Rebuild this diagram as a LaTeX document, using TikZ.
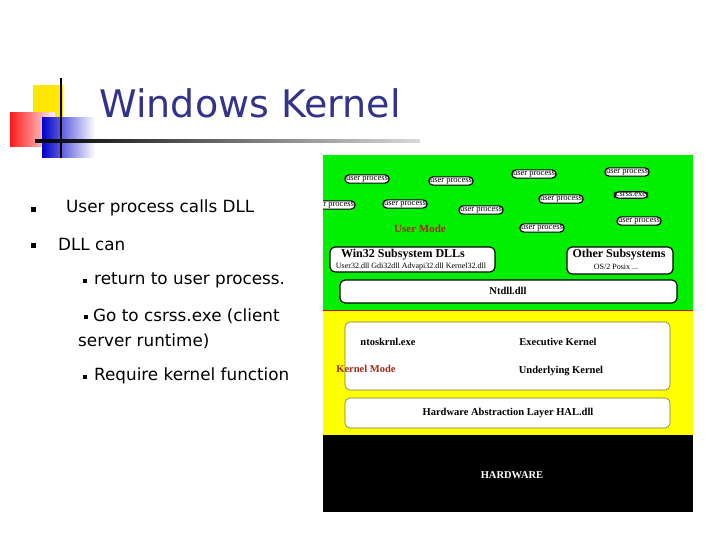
\documentclass[tikz,border=0pt]{standalone}
\usepackage{fontspec}
\setmainfont{Liberation Serif}
\newfontfamily\slidefont{DejaVu Sans}
\usetikzlibrary{positioning}
\definecolor{titleblue}{RGB}{51,51,140}
\definecolor{modered}{RGB}{170,40,20}
\definecolor{kgreen}{RGB}{0,240,0}
\definecolor{kyellow}{RGB}{255,255,0}
\tikzset{
  proc/.style={draw,line width=1.2pt,rounded corners=4pt,fill=white,inner sep=1.2pt,font=\fontsize{8.5}{9}\selectfont},
  box/.style={draw,line width=1.2pt,rounded corners=5pt,fill=white,anchor=north west},
  kbox/.style={draw=black!60!yellow,line width=0.6pt,rounded corners=5pt,fill=white},
  bullet/.style={fill=black,inner sep=0pt,minimum size=5pt},
  item/.style={anchor=west,inner sep=0pt,font=\slidefont\fontsize{16.8}{19}\selectfont,align=left},
}
\begin{document}
\begin{tikzpicture}[x=1pt,y=-1pt]
\useasboundingbox (0,0) rectangle (720,540);
% decoration
\fill[yellow!90!orange] (33,85) rectangle (63,118);
\shade[left color=red!90,right color=red!5] (10,113) rectangle (55,147);
\shade[left color=blue!80!black,right color=white] (42,118) rectangle (95,158);
\draw[line width=2pt] (61,78) -- (61,158);
\shade[left color=black,right color=white!85!black] (35,140) rectangle (420,142.5);
\node[anchor=west,text=titleblue,font=\slidefont\fontsize{38}{44}\selectfont] (title) at (96,103) {Windows Kernel};
% bullets
\node[bullet] (b1) at (33,210) {};
\node[item] (t1) at (66,208) {User process calls DLL};
\node[bullet] (b2) at (33,245) {};
\node[item] (t2) at (58,244) {DLL can};
\node[bullet,minimum size=4pt] (b3) at (85,281) {};
\node[item] (t3) at (94,280) {return to user process.};
\node[bullet,minimum size=4pt] (b4) at (86,317) {};
\node[item] (t4) at (93,316) {Go to csrss.exe (client};
\node[item] (t5) at (78,341) {server runtime)};
\node[bullet,minimum size=4pt] (b5) at (85,377) {};
\node[item] (t6) at (94,376) {Require kernel function};
% layers
\fill[kgreen] (323,155) rectangle (693,310);
\fill[kyellow] (323,310) rectangle (693,435);
\fill[black] (323,435) rectangle (693,512);
\draw[red!80!black,line width=0.8pt] (323,310.5) -- (693,310.5);
\begin{scope}
\clip (323,155) rectangle (693,310);
\foreach \px/\py in {367/179,451/181,534/174,627/172,333/205,405/204,481/210,561/199,542/228,639/221}
  \node[proc] at (\px,\py) {user process};
\node[proc] (csrss) at (631,195) {csrss.exe};
\end{scope}
\node[text=modered,font=\bfseries\fontsize{11}{12}\selectfont] (umode) at (420,229) {User Mode};
\draw[box] (330,247) rectangle (495,272);
\node[font=\bfseries\fontsize{12}{13}\selectfont] (win32) at (403,255) {Win32 Subsystem DLLs};
\node[font=\fontsize{8}{9}\selectfont] (win32dll) at (411,267) {User32.dll Gdi32dll Advapi32.dll Kernel32.dll};
\draw[box] (567,247) rectangle (673,274);
\node[font=\bfseries\fontsize{12}{13}\selectfont] (other) at (619,255) {Other Subsystems};
\node[font=\fontsize{8}{9}\selectfont] (os2) at (616,267) {OS/2 Posix ...};
\draw[box] (340,280) rectangle (677,303);
\node[font=\bfseries\fontsize{10.5}{12}\selectfont] (ntdll) at (508,291) {Ntdll.dll};
\draw[kbox] (345,322) rectangle (670,390);
\node[font=\bfseries\fontsize{10.5}{12}\selectfont] (ntos) at (388,342) {ntoskrnl.exe};
\node[font=\bfseries\fontsize{10.5}{12}\selectfont] (exec) at (558,342) {Executive Kernel};
\node[font=\bfseries\fontsize{10.5}{12}\selectfont] (under) at (561,371) {Underlying Kernel};
\node[text=modered,font=\bfseries\fontsize{10.5}{12}\selectfont] (kmode) at (366,369) {Kernel Mode};
\draw[kbox] (345,398) rectangle (670,428);
\node[font=\bfseries\fontsize{10.5}{12}\selectfont] (hal) at (508,413) {Hardware Abstraction Layer HAL.dll};
\node[text=white,font=\bfseries\fontsize{10.5}{12}\selectfont] (hw) at (512,475) {HARDWARE};
\end{tikzpicture}
\end{document}
